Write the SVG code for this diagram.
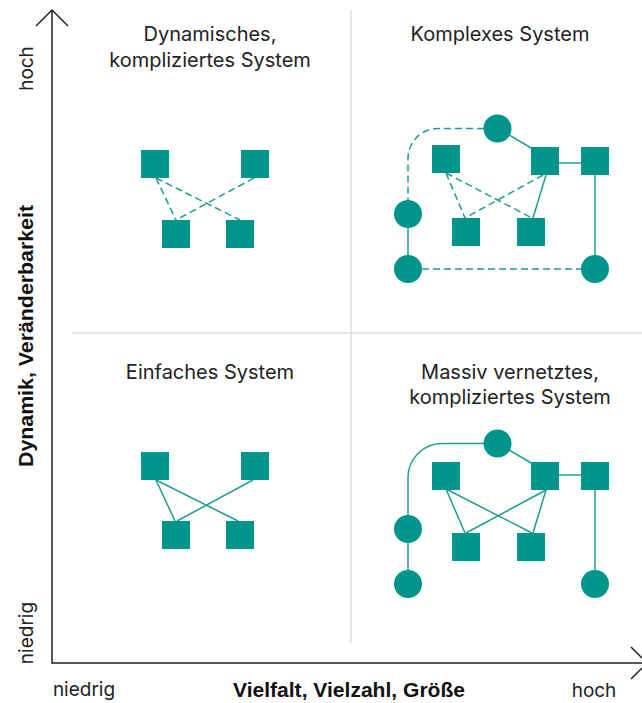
<svg xmlns="http://www.w3.org/2000/svg" width="642" height="703" viewBox="0 0 642 703">
<style>
.t{font-family:Inter,"Liberation Sans",sans-serif;font-size:20px;fill:#222;text-anchor:middle}
.s{font-family:Inter,"Liberation Sans",sans-serif;font-size:19px;fill:#222;text-anchor:middle}
.b{font-family:"Liberation Sans",Arial,sans-serif;font-size:21px;font-weight:bold;fill:#111;text-anchor:middle}
.ax{stroke:#222;stroke-width:1.5;fill:none}
.div{stroke:#ddd;stroke-width:1.5;fill:none}
.c{stroke:#1f9c91;stroke-width:1.5;fill:none}
.d{stroke:#1f9c91;stroke-width:1.5;fill:none;stroke-dasharray:7 4}
.n{fill:#00958a}
</style>
<rect width="642" height="703" fill="#fff"/>
<g id="grid">
<line class="div" x1="351" y1="10" x2="351" y2="643"/>
<line class="div" x1="72" y1="333" x2="642" y2="333"/>
</g>
<g id="axes">
<polyline class="ax" points="52,10 52,663 647,663"/>
<polyline class="ax" points="36,26 52,10 68,26"/>
<polyline class="ax" points="631,647 647,663 631,679"/>
</g>
<g id="labels">
<text class="s" transform="translate(33,68.5) rotate(-90)">hoch</text>
<text class="s" transform="translate(33,633) rotate(-90)">niedrig</text>
<text class="b" transform="translate(33,336) rotate(-90)" textLength="262" lengthAdjust="spacingAndGlyphs">Dynamik, Veränderbarkeit</text>
<text class="s" x="84" y="696">niedrig</text>
<text class="b" x="349" y="697" textLength="232" lengthAdjust="spacingAndGlyphs">Vielfalt, Vielzahl, Größe</text>
<text class="s" x="594" y="697">hoch</text>
<text class="t" x="210" y="41">Dynamisches,</text>
<text class="t" x="210" y="66.5">kompliziertes System</text>
<text class="t" x="500" y="41">Komplexes System</text>
<text class="t" x="210" y="379">Einfaches System</text>
<text class="t" x="510" y="379">Massiv vernetztes,</text>
<text class="t" x="510" y="404">kompliziertes System</text>
</g>
<g id="connectors">
<line class="d" x1="156" y1="178" x2="176" y2="220"/>
<line class="d" x1="156" y1="178" x2="240" y2="220"/>
<line class="d" x1="254" y1="178" x2="176" y2="220"/>
<line class="c" x1="156" y1="480" x2="175" y2="521"/>
<line class="c" x1="156" y1="480" x2="238" y2="521"/>
<line class="c" x1="253" y1="480" x2="177" y2="521"/>
<path class="d" d="M484,128.5 H438 A30,30 0 0 0 408,158.5 V200"/>
<line class="c" x1="497" y1="128" x2="533" y2="149"/>
<line class="c" x1="559" y1="163" x2="581" y2="163"/>
<line class="c" x1="595" y1="175" x2="595" y2="256"/>
<line class="d" x1="446" y1="173" x2="465" y2="218"/>
<line class="d" x1="446" y1="173" x2="532" y2="218"/>
<line class="d" x1="543" y1="175" x2="465" y2="218"/>
<line class="c" x1="546" y1="175" x2="533" y2="218"/>
<line class="c" x1="408" y1="214" x2="408" y2="269"/>
<line class="d" x1="422" y1="269" x2="581" y2="269"/>
<path class="c" d="M484,443.5 H442 A34,34 0 0 0 408,477.5 V529"/>
<line class="c" x1="497" y1="443" x2="533" y2="464"/>
<line class="c" x1="559" y1="475" x2="581" y2="475"/>
<line class="c" x1="595" y1="490" x2="595" y2="584"/>
<line class="c" x1="446" y1="489" x2="465" y2="533"/>
<line class="c" x1="446" y1="489" x2="532" y2="533"/>
<line class="c" x1="546" y1="490" x2="466" y2="533"/>
<line class="c" x1="546" y1="490" x2="533" y2="533"/>
<line class="c" x1="408" y1="529" x2="408" y2="584"/>
</g>
<g id="q-tl">
<rect id="tl1" class="n" x="141" y="150" width="28" height="28"/>
<rect id="tl2" class="n" x="241" y="150" width="28" height="28"/>
<rect id="tl3" class="n" x="162" y="220" width="28" height="28"/>
<rect id="tl4" class="n" x="226" y="220" width="28" height="28"/>
</g>
<g id="q-bl">
<rect id="bl1" class="n" x="141" y="452" width="28" height="28"/>
<rect id="bl2" class="n" x="241" y="452" width="28" height="28"/>
<rect id="bl3" class="n" x="162" y="521" width="28" height="28"/>
<rect id="bl4" class="n" x="226" y="521" width="28" height="28"/>
</g>
<g id="q-tr">
<circle id="tr-c1" class="n" cx="497.5" cy="128.5" r="14"/>
<rect id="tr-a" class="n" x="432" y="145" width="28" height="28"/>
<rect id="tr-b" class="n" x="531" y="147" width="28" height="28"/>
<rect id="tr-c" class="n" x="581" y="147" width="28" height="28"/>
<rect id="tr-d" class="n" x="452" y="218" width="28" height="28"/>
<rect id="tr-e" class="n" x="517" y="218" width="28" height="28"/>
<circle id="tr-c2" class="n" cx="408" cy="214" r="14"/>
<circle id="tr-c3" class="n" cx="408" cy="269" r="14"/>
<circle id="tr-c4" class="n" cx="595" cy="269" r="14"/>
</g>
<g id="q-br">
<circle id="br-c1" class="n" cx="497.5" cy="443.5" r="14"/>
<rect id="br-a" class="n" x="432" y="462" width="28" height="28"/>
<rect id="br-b" class="n" x="531" y="462" width="28" height="28"/>
<rect id="br-c" class="n" x="581" y="462" width="28" height="28"/>
<rect id="br-d" class="n" x="452" y="533" width="28" height="28"/>
<rect id="br-e" class="n" x="517" y="533" width="28" height="28"/>
<circle id="br-c2" class="n" cx="408" cy="529" r="14"/>
<circle id="br-c3" class="n" cx="408" cy="584" r="14"/>
<circle id="br-c4" class="n" cx="595" cy="584" r="14"/>
</g>
</svg>
